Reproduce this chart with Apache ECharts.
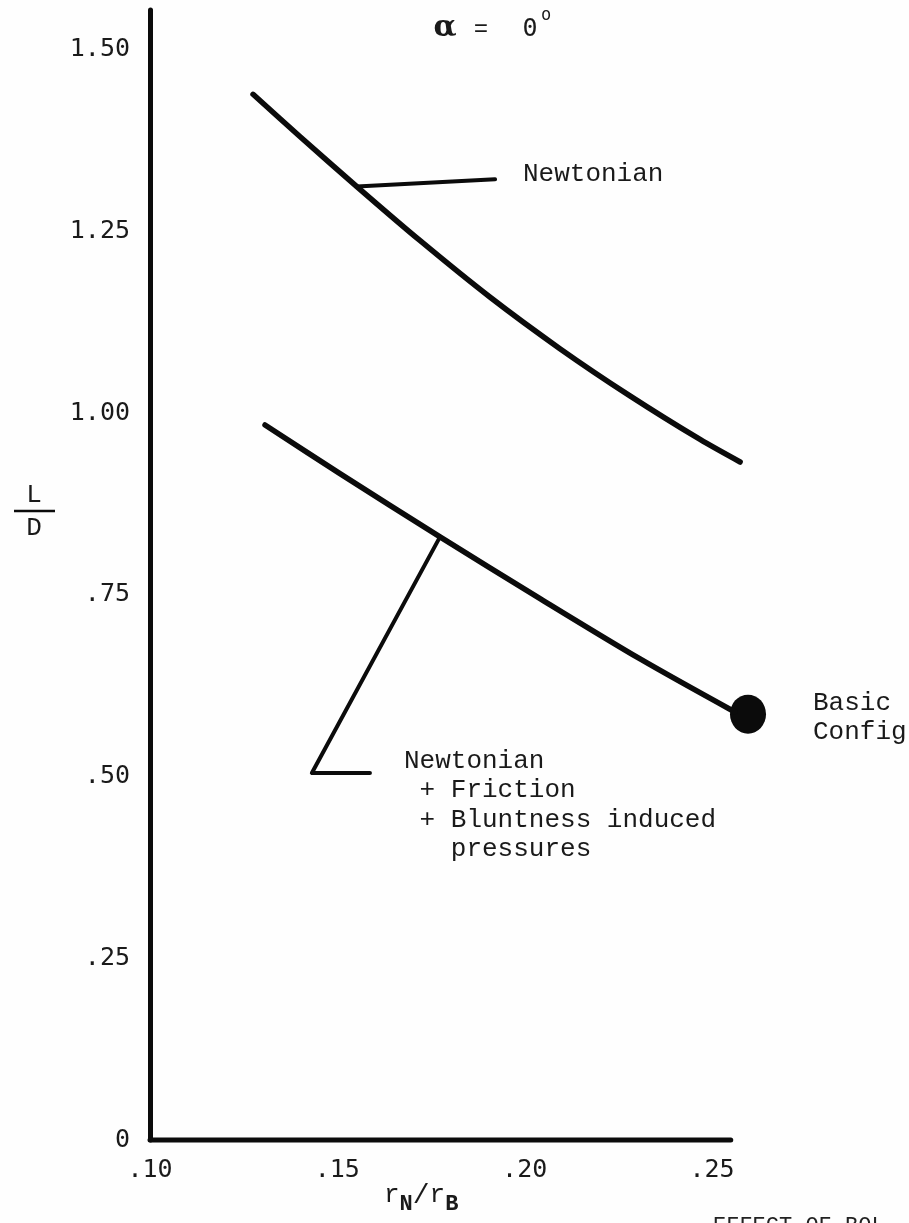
<!DOCTYPE html>
<html>
<head>
<meta charset="utf-8">
<title>L/D versus nose bluntness</title>
<script src="https://cdn.jsdelivr.net/npm/echarts@6/dist/echarts.min.js"></script>
<style>
  html, body { margin: 0; padding: 0; background: #fefefe; }
  #chart { width: 909px; height: 1223px; }
</style>
</head>
<body>
<div id="chart"></div>
<script>
// Nose-radius ratio r_N/r_B against lift-to-drag ratio, alpha = 0 deg
const xTickValues = [0.10, 0.15, 0.20, 0.25];
const xTickLabels = ['.10', '.15', '.20', '.25'];
const yTickValues = [0, 0.25, 0.50, 0.75, 1.00, 1.25, 1.50];
const yTickLabels = ['0', '.25', '.50', '.75', '1.00', '1.25', '1.50'];

// Drawn extent of the r_N/r_B baseline
const baselineRatio = [0.10, 0.255];
const baselineLD    = [0, 0];

// Newtonian estimate
const newtonianRatio = [0.1275, 0.140, 0.1552, 0.1721, 0.1907, 0.2094, 0.2281, 0.2468, 0.2575];
const newtonianLD    = [1.439,  1.381, 1.312,  1.2375, 1.160,  1.089,  1.024,  0.964,  0.933];

// Newtonian + friction + bluntness induced pressures
const frictionRatio = [0.1307, 0.1507, 0.1774, 0.2041, 0.2308, 0.2561];
const frictionLD    = [0.984,  0.917,  0.830,  0.745,  0.662,  0.589];

// Basic configuration point
const basicRatio = [0.2596];
const basicLD    = [0.586];

// Annotation leader lines (data space)
const newtonianLeaderRatio = [0.1552, 0.1921];
const newtonianLeaderLD    = [1.312, 1.322];
const frictionLeaderRatio  = [0.1774, 0.1432, 0.1587];
const frictionLeaderLD     = [0.830, 0.505, 0.505];

const zip = (xs, ys) => xs.map((x, i) => [x, ys[i]]);
const ink = '#0b0b0b';
const mono = '"Liberation Mono", "DejaVu Sans Mono", monospace';
const tickFont = '"DejaVu Sans Mono", "Liberation Mono", monospace';

const chart = echarts.init(document.getElementById('chart'), null, { renderer: 'canvas' });

const lineSeries = (data, width, smooth) => ({
  type: 'line',
  data: data,
  smooth: smooth,
  showSymbol: false,
  symbol: 'none',
  clip: false,
  silent: true,
  lineStyle: { color: ink, width: width, cap: 'round', join: 'round' }
});

const label = (text, x, y, opts) => ({
  type: 'text',
  style: Object.assign({
    text: text, x: x, y: y,
    font: '26px ' + mono,
    fill: '#1a1a1a',
    textAlign: 'left',
    textVerticalAlign: 'middle'
  }, opts || {})
});

chart.setOption({
  backgroundColor: '#fefefe',
  animation: false,
  grid: { left: 150, right: 152, top: 10, bottom: 83, containLabel: false },
  xAxis: {
    type: 'value',
    min: 0.10,
    max: 0.262,
    interval: 0.05,
    axisLine: { show: false },
    axisTick: { show: false },
    splitLine: { show: false },
    axisLabel: {
      margin: 18,
      color: '#1a1a1a',
      fontFamily: tickFont,
      fontSize: 25,
      showMaxLabel: false,
      formatter: v => {
        const i = xTickValues.findIndex(t => Math.abs(t - v) < 1e-6);
        return i >= 0 ? xTickLabels[i] : '';
      }
    }
  },
  yAxis: {
    type: 'value',
    min: 0,
    max: 1.555,
    interval: 0.25,
    axisLine: { show: true, onZero: false, lineStyle: { color: ink, width: 5, cap: 'round' } },
    axisTick: { show: false },
    splitLine: { show: false },
    axisLabel: {
      margin: 20,
      color: '#1a1a1a',
      fontFamily: tickFont,
      fontSize: 25,
      showMaxLabel: false,
      formatter: v => {
        const i = yTickValues.findIndex(t => Math.abs(t - v) < 1e-6);
        return i >= 0 ? yTickLabels[i] : '';
      }
    }
  },
  series: [
    lineSeries(zip(baselineRatio, baselineLD), 5, false),
    lineSeries(zip(newtonianRatio, newtonianLD), 5.5, 0.3),
    lineSeries(zip(frictionRatio, frictionLD), 5.5, 0.3),
    lineSeries(zip(newtonianLeaderRatio, newtonianLeaderLD), 4, false),
    lineSeries(zip(frictionLeaderRatio, frictionLeaderLD), 4, false),
    {
      type: 'scatter',
      data: zip(basicRatio, basicLD),
      symbol: 'circle',
      symbolSize: [36, 39],
      clip: false,
      silent: true,
      itemStyle: { color: ink, opacity: 1 }
    }
  ],
  graphic: [
    // angle of attack
    label('α', 445, 28, { font: 'bold 30px "DejaVu Serif", serif', textAlign: 'center' }),
    label('=', 481, 30, { font: '24px ' + mono, textAlign: 'center' }),
    label('0', 530, 29, { font: '25px ' + tickFont, textAlign: 'center' }),
    label('o', 546, 16, { font: '17px ' + tickFont, textAlign: 'center' }),

    // curve annotations
    label('Newtonian', 523, 174),
    label('Newtonian', 404, 761),
    label(' + Friction', 404, 790),
    label(' + Bluntness induced', 404, 820),
    label('   pressures', 404, 849),
    label('Basic', 813, 703),
    label('Config', 813, 732),

    // y axis title L/D
    label('L', 34, 495, { textAlign: 'center', font: '26px ' + mono }),
    { type: 'line', shape: { x1: 14, y1: 511, x2: 55, y2: 511 }, style: { stroke: ink, lineWidth: 2.5 } },
    label('D', 34, 528, { textAlign: 'center', font: '26px ' + mono }),

    // x axis title r_N / r_B
    {
      type: 'text',
      style: {
        x: 384, y: 1198,
        text: '{r|r}{s|N}{sl|/}{r|r}{s|B}',
        textVerticalAlign: 'middle',
        rich: {
          r: { font: '26px ' + mono, fill: '#1a1a1a', padding: [0, 0, 6, 0] },
          s: { font: 'bold 22px ' + mono, fill: '#1a1a1a', padding: [12, 0, 0, 0] },
          sl: { font: '28px ' + mono, fill: '#1a1a1a', padding: [0, 0, 4, 0] }
        }
      }
    },

    // figure caption, cut by the page edge
    label('EFFECT OF BOL', 713, 1226, { font: '22px ' + mono, fill: '#222' })
  ]
});
</script>
</body>
</html>
